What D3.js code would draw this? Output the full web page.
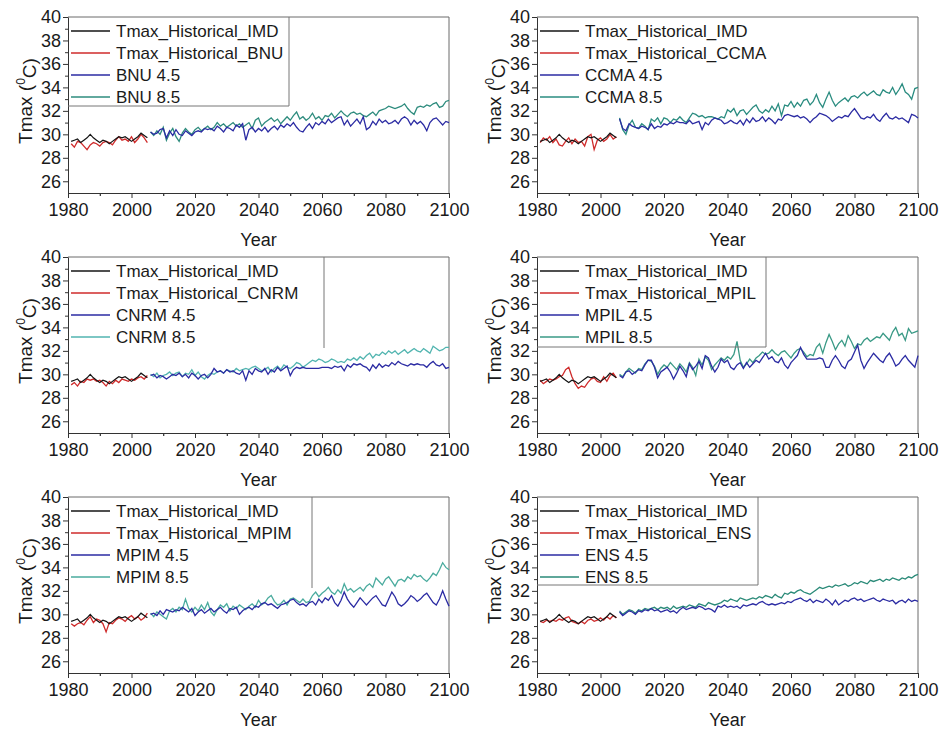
<!DOCTYPE html>
<html>
<head>
<meta charset="utf-8">
<script src="https://cdn.jsdelivr.net/npm/d3@7"></script>
<style>
  html, body { margin: 0; padding: 0; background: #fff; }
  svg { display: block; font-family: Arial, "Liberation Sans", sans-serif; }
</style>
</head>
<body>
<svg id="chart" width="942" height="731"></svg>
<script>
// Annual mean maximum temperature (°C): observed IMD, model historical runs,
// and RCP 4.5 / RCP 8.5 projections for five GCMs and their ensemble.
const histStart = 1981, futStart = 2006;
const yTicks = [26, 28, 30, 32, 34, 36, 38, 40];
const xTicks = [1980, 2000, 2020, 2040, 2060, 2080, 2100];

const imd = [29.4,29.5,29.6,29.3,29.5,29.7,30.0,29.7,29.5,29.3,29.5,29.4,29.2,29.4,29.6,29.8,29.7,29.8,29.6,29.4,29.6,29.8,30.1,29.9,29.7];

const models = ["BNU", "CCMA", "CNRM", "MPIL", "MPIM", "ENS"];

const histBNU = [29.2,28.9,29.4,29.3,29.0,28.7,29.1,29.3,29.2,29.0,29.3,29.4,29.3,29.1,29.5,29.8,29.5,29.6,29.4,29.8,29.3,29.6,30.0,29.7,29.3];
const rcp45BNU = [
  30.2,30.0,30.1,30.4,30.5,29.7,30.3,29.9,30.4,30.0,
  29.9,30.3,30.1,29.9,30.2,30.3,30.2,30.5,30.4,30.5,
  30.3,30.7,30.5,30.2,30.6,30.5,30.3,30.8,30.6,30.9,
  29.5,30.4,30.6,30.2,30.5,30.3,30.6,30.2,30.5,30.7,
  30.4,30.8,30.6,30.9,30.7,31.0,30.6,30.3,30.2,30.6,
  30.9,30.5,31.0,30.8,31.1,30.9,31.3,31.0,31.2,31.4,
  31.5,30.8,31.2,30.7,31.0,31.3,30.9,31.5,30.4,30.6,
  31.1,30.8,31.3,31.0,31.2,30.9,31.0,31.2,30.9,31.3,
  31.5,31.3,30.8,31.2,30.9,31.1,30.8,30.3,31.0,31.3,
  31.4,31.1,30.8,31.1,31.0];
const rcp85BNU = [
  30.2,29.9,30.3,30.0,30.6,29.5,30.1,30.5,29.8,29.4,
  30.1,30.5,30.2,30.0,30.4,30.6,30.3,30.5,30.7,30.4,
  30.6,31.0,30.7,30.9,30.6,30.8,31.0,30.7,30.9,30.6,
  30.8,31.0,30.5,31.2,31.4,30.7,31.0,31.2,31.4,31.1,
  31.3,30.9,31.2,31.5,31.2,31.6,31.9,31.3,31.5,31.2,
  31.4,31.8,31.3,31.5,31.2,31.6,31.5,31.8,31.4,31.7,
  32.0,31.7,31.5,31.8,31.9,31.7,31.8,31.6,31.5,31.7,
  31.9,31.6,32.0,32.1,32.2,32.4,32.3,32.2,32.3,32.4,
  32.6,32.2,31.9,31.7,32.3,32.4,32.3,32.5,32.4,32.6,
  32.7,32.3,32.4,32.8,32.9];

const histCCMA = [29.3,29.7,29.5,29.8,29.3,29.6,29.1,29.0,29.4,29.7,29.2,29.6,29.3,29.4,29.0,29.8,30.0,28.7,29.5,29.7,29.4,29.6,30.0,29.6,29.8];
const rcp45CCMA = [
  31.3,30.5,30.3,30.9,30.7,30.6,30.5,30.7,30.6,30.4,
  30.9,30.5,30.7,30.6,30.9,30.8,31.0,30.9,31.1,31.0,
  31.0,30.9,31.2,30.9,31.0,31.1,30.4,31.0,30.8,31.2,
  31.4,31.3,31.2,30.9,31.0,31.2,31.0,30.9,31.2,30.8,
  31.3,31.0,31.4,31.1,31.2,31.5,31.1,31.4,31.2,30.9,
  31.3,31.2,31.6,31.7,31.6,31.5,31.6,31.4,31.5,31.3,
  31.0,31.3,31.5,31.8,31.7,31.6,31.4,31.1,31.3,31.5,
  31.4,31.6,31.5,31.9,32.2,31.8,31.4,31.3,31.5,31.4,
  31.7,31.3,31.1,31.5,31.8,31.4,31.3,31.5,31.3,31.4,
  31.2,31.0,31.7,31.6,31.4];
const rcp85CCMA = [
  31.4,30.4,30.0,30.8,31.2,30.6,30.5,30.9,30.7,30.4,
  31.3,31.1,31.4,30.9,31.4,31.3,31.0,31.3,31.2,31.5,
  31.2,31.0,31.4,31.8,31.7,31.5,31.6,31.4,31.5,31.5,
  31.4,31.3,31.5,31.4,32.1,31.9,32.2,31.6,32.0,32.1,
  31.7,32.0,32.3,32.5,32.0,31.8,32.1,31.9,32.4,32.0,
  32.6,31.6,32.5,32.4,32.8,32.3,32.7,32.4,32.9,33.0,
  32.5,32.8,33.4,32.7,32.3,33.0,33.6,32.9,32.4,32.7,
  32.9,33.1,32.8,33.2,33.3,33.1,33.4,33.6,33.3,33.5,
  33.7,33.4,33.3,33.8,33.6,33.5,34.0,33.4,33.8,34.3,
  33.6,33.4,33.0,33.9,34.0];

const histCNRM = [29.1,29.3,29.0,29.4,29.3,29.6,29.5,29.6,29.4,29.5,29.3,29.0,29.4,29.2,29.5,29.3,29.6,29.5,29.4,29.6,29.5,29.7,29.8,29.6,29.9];
const rcp45CNRM = [
  29.9,30.0,29.7,29.9,29.8,29.6,29.8,30.0,29.9,30.1,
  29.8,30.0,29.7,30.1,29.9,29.6,29.9,30.0,29.7,30.0,
  30.5,30.2,30.3,30.1,30.4,30.2,30.3,30.1,30.0,30.3,
  29.5,30.3,30.0,30.5,30.3,30.2,30.5,30.0,30.4,30.2,
  30.6,30.3,30.5,30.7,29.9,30.4,30.6,30.5,30.6,30.5,
  30.5,30.5,30.5,30.5,30.6,30.6,30.6,30.5,30.7,30.6,
  30.7,30.3,30.8,30.6,30.9,30.8,30.9,30.7,30.6,30.3,
  30.8,30.5,30.9,30.6,30.8,30.7,31.0,30.8,31.1,30.9,
  30.8,30.7,30.9,30.8,30.9,30.8,30.8,30.6,30.9,31.1,
  30.8,30.7,30.9,30.5,30.6];
const rcp85CNRM = [
  30.0,29.8,30.1,29.7,29.9,30.0,30.2,29.9,30.1,30.2,
  29.8,30.1,30.0,30.4,29.9,30.2,29.8,29.6,29.9,30.1,
  30.0,30.2,30.3,30.1,30.4,30.3,30.2,30.5,30.3,30.4,
  30.5,30.4,30.6,30.7,30.5,30.3,30.4,30.6,30.2,30.5,
  30.7,30.4,30.8,30.6,30.5,30.7,31.0,30.9,30.6,30.8,
  31.0,31.2,31.1,31.3,31.2,31.0,31.1,31.3,31.2,31.0,
  31.1,31.0,31.3,31.2,31.4,31.2,31.5,31.3,31.6,31.8,
  31.4,31.7,31.6,31.9,31.7,32.0,31.8,32.0,31.7,31.9,
  32.1,31.8,32.0,32.2,32.0,31.9,32.2,32.0,31.8,32.4,
  32.2,32.0,32.1,32.3,32.3];

const histMPIL = [29.5,29.2,29.4,29.6,29.5,29.6,29.8,29.9,30.4,30.6,29.8,29.2,28.8,29.0,28.9,29.3,29.6,29.7,29.4,29.3,29.8,29.4,29.9,30.1,29.7];
const rcp45MPIL = [
  29.9,29.7,30.2,30.3,30.0,30.2,30.4,30.3,30.8,31.2,
  31.2,30.6,29.7,30.2,30.4,30.6,30.2,29.6,30.1,30.7,
  30.3,29.8,30.9,30.4,30.7,31.1,30.5,31.6,31.4,30.7,
  30.2,30.6,31.3,31.0,31.2,30.6,30.4,30.8,31.0,30.5,
  31.0,30.6,30.9,31.2,31.0,31.4,31.8,31.3,31.5,31.1,
  31.0,31.4,30.8,30.5,31.0,31.3,31.6,32.3,31.7,31.3,
  31.3,31.3,31.3,31.4,31.3,30.6,30.6,31.2,31.6,31.2,
  30.7,30.5,31.1,31.3,31.9,32.5,31.2,30.5,31.0,31.4,
  31.8,31.5,31.2,31.0,31.5,31.8,31.3,30.7,30.9,31.3,
  31.6,31.2,30.9,30.6,31.6];
const rcp85MPIL = [
  30.0,29.8,30.2,30.5,30.3,30.1,30.5,30.4,30.9,31.2,
  31.1,30.7,30.0,30.5,30.8,30.6,31.0,30.7,30.4,30.9,
  30.6,30.2,31.0,30.6,29.9,31.3,30.8,31.5,31.2,30.4,
  30.8,31.1,31.4,31.2,31.5,31.3,31.7,32.8,31.2,30.6,
  30.9,31.3,31.0,31.4,31.6,31.9,31.7,31.8,32.1,31.8,
  31.6,31.9,32.0,31.7,31.4,31.8,32.1,32.2,31.9,31.5,
  31.7,31.6,32.3,32.6,31.8,32.7,33.4,32.8,32.1,32.6,
  32.9,32.4,33.3,32.8,32.2,32.6,32.5,32.9,33.1,32.8,
  33.0,33.2,33.1,33.5,33.2,32.9,33.6,34.0,33.3,33.5,
  32.9,33.9,33.5,33.6,33.7];

const histMPIM = [29.2,29.0,29.2,29.3,29.1,29.5,29.8,29.3,29.6,29.5,29.2,28.5,29.3,29.2,29.5,29.7,29.6,29.4,29.7,29.9,29.6,29.8,29.5,29.7,30.1];
const rcp45MPIM = [
  30.0,30.1,29.9,30.3,30.0,30.4,30.3,30.2,30.4,30.3,
  30.6,30.4,30.2,30.5,29.9,30.2,30.4,30.1,30.3,30.5,
  30.2,30.4,30.6,30.3,30.1,30.5,30.4,30.6,30.0,30.3,
  30.5,30.6,30.4,30.7,30.6,30.9,31.0,30.8,30.9,30.7,
  30.5,30.8,30.9,31.0,31.2,31.3,31.0,30.8,30.9,30.7,
  31.0,31.1,30.8,31.3,31.0,31.4,31.2,31.6,31.0,30.7,
  31.2,31.9,31.3,30.9,30.6,31.0,31.4,31.1,30.8,31.1,
  31.4,31.6,31.2,30.8,30.7,31.3,31.9,31.5,30.9,30.7,
  30.9,31.2,31.6,31.4,31.1,31.3,31.6,31.8,31.4,31.0,
  30.8,31.3,32.0,31.3,30.7];
const rcp85MPIM = [
  30.1,29.8,30.2,30.0,29.8,29.6,30.3,30.5,30.2,30.6,
  30.4,31.3,30.5,30.2,30.6,30.3,30.8,30.4,31.0,30.2,
  29.9,30.4,30.8,30.6,30.9,30.3,30.7,30.5,30.8,30.6,
  30.4,30.7,30.9,30.6,31.2,30.8,31.0,31.4,31.6,31.1,
  30.8,30.9,31.2,30.8,31.3,31.4,31.2,31.0,31.3,31.0,
  31.1,31.6,31.9,31.5,31.8,32.0,32.3,31.9,31.7,32.1,
  31.8,32.6,32.0,32.2,31.9,32.1,32.3,32.0,32.4,32.6,
  32.3,33.1,32.8,32.5,33.0,33.2,32.8,32.4,32.9,33.0,
  32.8,33.2,33.0,33.4,33.2,33.3,33.0,32.8,33.1,33.5,
  33.3,33.8,34.4,34.0,33.8];

const histENS = [29.4,29.3,29.5,29.4,29.5,29.4,29.6,29.5,29.7,29.8,29.4,29.3,29.2,29.4,29.2,29.5,29.6,29.4,29.5,29.7,29.5,29.8,29.6,29.9,29.7];
const rcp45ENS = [
  30.2,29.9,30.1,30.3,30.2,30.0,30.3,30.2,30.4,30.3,
  30.5,30.3,30.4,30.2,30.3,30.4,30.2,30.3,30.1,30.4,
  30.6,30.4,30.5,30.6,30.5,30.7,30.6,30.4,30.5,30.4,
  30.2,30.7,30.6,30.8,30.6,30.7,30.6,30.7,30.5,30.8,
  30.7,30.8,30.9,30.8,31.0,31.1,30.9,30.8,30.9,30.8,
  30.9,31.0,30.9,31.1,31.0,31.2,31.3,31.4,31.2,31.1,
  31.3,31.0,31.2,31.1,31.0,31.3,31.1,30.8,31.2,30.8,
  31.0,31.2,31.1,31.3,31.4,31.2,31.3,31.1,31.2,31.3,
  31.4,31.2,31.1,31.3,31.2,31.1,31.2,30.9,31.1,31.2,
  31.0,31.3,31.1,31.2,31.1];
const rcp85ENS = [
  30.3,30.0,30.2,30.4,30.3,30.1,30.4,30.3,30.5,30.4,
  30.5,30.6,30.4,30.6,30.5,30.6,30.4,30.7,30.5,30.6,
  30.7,30.6,30.8,30.7,30.6,30.9,30.8,30.7,31.0,30.9,
  30.8,30.9,31.0,31.2,31.1,31.3,31.2,31.1,31.4,31.3,
  31.2,31.3,31.4,31.3,31.5,31.4,31.6,31.5,31.4,31.7,
  31.5,31.4,31.8,31.7,31.9,31.8,32.0,32.1,31.9,31.8,
  31.7,31.9,32.1,32.3,32.2,32.3,32.4,32.3,32.5,32.4,
  32.5,32.6,32.4,32.5,32.7,32.6,32.8,32.7,32.6,32.9,
  32.8,32.9,33.0,32.8,33.0,32.9,33.1,33.0,32.9,33.1,
  33.0,33.2,33.1,33.3,33.4];

const histSeries = [histBNU, histCCMA, histCNRM, histMPIL, histMPIM, histENS];
const rcp45Series = [rcp45BNU, rcp45CCMA, rcp45CNRM, rcp45MPIL, rcp45MPIM, rcp45ENS];
const rcp85Series = [rcp85BNU, rcp85CCMA, rcp85CNRM, rcp85MPIL, rcp85MPIM, rcp85ENS];

// Panel geometry and per-panel styling
const panelW = 381, panelH = 176;
const colX = [68, 537], rowY = [17, 257, 497];
const colors = { imd: "#141414", hist: "#cf2b2b", r45: "#2b2ba3" };
const r85Color = ["#2e8c7e", "#2a8c80", "#52b5b0", "#3a9a86", "#4aab9e", "#2a8a78"];
// legend frame: width, height, which edges are visible
const legendFrame = [
  { w: 221, h: 89, edges: "box" },
  { w: 0, h: 0, edges: "none" },
  { w: 256, h: 91, edges: "right" },
  { w: 229, h: 90, edges: "box" },
  { w: 244, h: 91, edges: "right" },
  { w: 221, h: 88, edges: "box" }
];

const svg = d3.select("#chart");
const x = d3.scaleLinear().domain([1980, 2100]).range([0, panelW]);
const y = d3.scaleLinear().domain([25, 40]).range([panelH, 0]);
const line = d3.line().x(d => x(d[0])).y(d => y(d[1]));
const withYears = (arr, start) => arr.map((v, i) => [start + i, v]);

models.forEach((m, i) => {
  const gx = colX[i % 2], gy = rowY[Math.floor(i / 2)];
  const g = svg.append("g").attr("transform", `translate(${gx},${gy})`);

  // frame (top and right edges)
  g.append("path")
    .attr("d", `M0,0H${panelW}V${panelH}`)
    .attr("fill", "none").attr("stroke", "#6a6a6a").attr("stroke-width", 1);

  // minor ticks
  const yMinor = d3.range(27, 40, 2);
  const xMinor = d3.range(1990, 2100, 20);
  g.append("g").attr("class", "yminor")
    .call(d3.axisLeft(y).tickValues(yMinor).tickSize(3).tickFormat(""))
    .call(a => a.select(".domain").remove());
  g.append("g").attr("transform", `translate(0,${panelH})`)
    .call(d3.axisBottom(x).tickValues(xMinor).tickSize(3).tickFormat(""))
    .call(a => a.select(".domain").remove());

  // major axes
  const ya = g.append("g")
    .call(d3.axisLeft(y).tickValues(yTicks).tickSize(5).tickPadding(2).tickSizeOuter(0));
  const xa = g.append("g").attr("transform", `translate(0,${panelH})`)
    .call(d3.axisBottom(x).tickValues(xTicks).tickFormat(d3.format("d")).tickSize(5).tickPadding(5).tickSizeOuter(0));
  [ya, xa].forEach(a => {
    a.selectAll("text").attr("font-size", 18).attr("fill", "#1a1a1a")
      .attr("font-family", "Arial, 'Liberation Sans', sans-serif");
    a.selectAll("line, .domain").attr("stroke", "#333");
  });
  svg.selectAll(".yminor line").attr("stroke", "#333");

  // data lines
  const plot = g.append("g");
  plot.append("path").datum(withYears(histSeries[i], histStart)).attr("d", line)
    .attr("fill", "none").attr("stroke", colors.hist).attr("stroke-width", 1.3);
  plot.append("path").datum(withYears(imd, histStart)).attr("d", line)
    .attr("fill", "none").attr("stroke", colors.imd).attr("stroke-width", 1.2);
  plot.append("path").datum(withYears(rcp85Series[i], futStart)).attr("d", line)
    .attr("fill", "none").attr("stroke", r85Color[i]).attr("stroke-width", 1.3);
  plot.append("path").datum(withYears(rcp45Series[i], futStart)).attr("d", line)
    .attr("fill", "none").attr("stroke", colors.r45).attr("stroke-width", 1.3);

  // legend
  const lf = legendFrame[i];
  const lg = g.append("g");
  if (lf.edges === "box") {
    lg.append("path").attr("d", `M0,${lf.h}H${lf.w}V0`)
      .attr("fill", "none").attr("stroke", "#777").attr("stroke-width", 1);
  } else if (lf.edges === "right") {
    lg.append("path").attr("d", `M${lf.w},0V${lf.h}`)
      .attr("fill", "none").attr("stroke", "#777").attr("stroke-width", 1);
  }
  const items = [
    { label: "Tmax_Historical_IMD", color: colors.imd },
    { label: `Tmax_Historical_${m}`, color: colors.hist },
    { label: `${m} 4.5`, color: colors.r45 },
    { label: `${m} 8.5`, color: r85Color[i] }
  ];
  items.forEach((it, k) => {
    const cy = 14 + k * 22;
    lg.append("line").attr("x1", 3).attr("x2", 42).attr("y1", cy).attr("y2", cy)
      .attr("stroke", it.color).attr("stroke-width", 1.3);
    lg.append("text").attr("x", 48).attr("y", cy).attr("dy", "0.35em")
      .attr("font-size", 17).attr("fill", "#1a1a1a").text(it.label);
  });

  // axis titles
  g.append("text").attr("x", panelW / 2).attr("y", 229)
    .attr("text-anchor", "middle").attr("font-size", 18).attr("fill", "#1a1a1a").text("Year");
  const yt = g.append("text")
    .attr("transform", `translate(-36,${panelH / 2 - 4}) rotate(-90)`)
    .attr("text-anchor", "middle").attr("font-size", 19).attr("fill", "#1a1a1a");
  yt.append("tspan").text("Tmax (");
  yt.append("tspan").attr("font-size", 12).attr("dy", "-0.6em").text("0");
  yt.append("tspan").attr("dy", "0.6em").text("C)");
});
</script>
</body>
</html>
